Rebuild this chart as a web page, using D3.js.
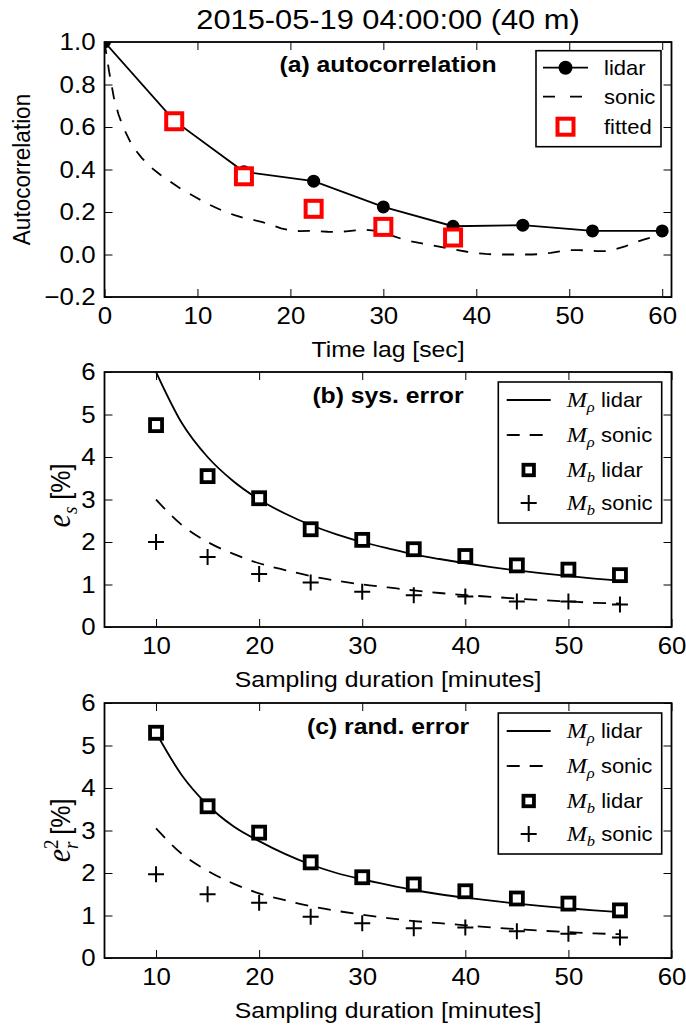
<!DOCTYPE html>
<html>
<head>
<meta charset="utf-8">
<script src="https://cdn.jsdelivr.net/npm/d3@7"></script>
<style>
body { margin: 0; background: #fff; }
text { font-family: "Liberation Sans", Arial, sans-serif; fill: #000; }
</style>
</head>
<body>
<div id="chart"></div>
<script>
// (a) autocorrelation vs time lag [sec]
const lagLidar = [0, 7.5, 15, 22.5, 30, 37.5, 45, 52.5, 60];
const acfLidar = [1.0, 0.63, 0.389, 0.345, 0.224, 0.133, 0.138, 0.111, 0.111];
const lagFitted = [7.5, 15, 22.5, 30, 37.5];
const acfFitted = [0.627, 0.368, 0.215, 0.13, 0.08];
const lagSonic = [0, 0.5, 1, 1.5, 2, 3, 4, 5, 6, 7, 8, 9, 10, 11, 12, 13, 14, 15, 16, 17, 18, 19, 20,
  21, 22, 23, 24, 25, 26, 27, 28, 29, 30, 31, 32, 33, 34, 35, 36, 37, 38, 39, 40,
  41, 42, 43, 44, 45, 46, 47, 48, 49, 50, 51, 52, 53, 54, 55, 56, 57, 58, 59, 60];
const acfSonic = [1.0, 0.86, 0.74, 0.66, 0.6, 0.51, 0.455, 0.41, 0.375, 0.345, 0.315, 0.29, 0.265,
  0.24, 0.22, 0.2, 0.185, 0.172, 0.163, 0.152, 0.138, 0.123, 0.113,
  0.11, 0.111, 0.109, 0.107, 0.106, 0.109, 0.114, 0.117, 0.112, 0.1,
  0.088, 0.073, 0.062, 0.053, 0.045, 0.037, 0.029, 0.021, 0.013, 0.007,
  0.003, 0.0, 0.0, 0.0, 0.0, 0.0, 0.002, 0.008, 0.015, 0.02,
  0.021, 0.019, 0.016, 0.016, 0.025, 0.038, 0.055, 0.07, 0.082, 0.09];

// (b) and (c) errors [%] vs sampling duration [minutes]
const durCurve = [10, 12.5, 15, 17.5, 20, 22.5, 25, 27.5, 30, 32.5, 35, 37.5, 40, 42.5, 45, 47.5, 50, 52.5, 55];
const durations = [10, 15, 20, 25, 30, 35, 40, 45, 50, 55];

const sysRhoLidar = [6.0, 4.8, 4.0, 3.43, 3.0, 2.67, 2.4, 2.18, 2.0, 1.85, 1.71, 1.6, 1.5, 1.41, 1.33, 1.26, 1.2, 1.14, 1.09];
const sysRhoSonic = [3.0, 2.4, 2.0, 1.72, 1.5, 1.34, 1.2, 1.09, 1.0, 0.93, 0.86, 0.8, 0.75, 0.71, 0.67, 0.63, 0.6, 0.57, 0.55];
const sysBLidar = [4.75, 3.55, 3.03, 2.3, 2.05, 1.83, 1.67, 1.45, 1.35, 1.22];
const sysBSonic = [2.0, 1.65, 1.25, 1.05, 0.83, 0.75, 0.72, 0.6, 0.6, 0.53];

const randRhoLidar = [5.3, 4.3, 3.6, 3.1, 2.75, 2.45, 2.2, 2.0, 1.85, 1.72, 1.6, 1.5, 1.42, 1.35, 1.28, 1.22, 1.17, 1.12, 1.08];
const randRhoSonic = [3.05, 2.45, 2.05, 1.75, 1.52, 1.36, 1.22, 1.11, 1.02, 0.94, 0.87, 0.82, 0.77, 0.72, 0.68, 0.64, 0.61, 0.58, 0.56];
const randBLidar = [5.3, 3.57, 2.95, 2.25, 1.9, 1.73, 1.57, 1.4, 1.28, 1.12];
const randBSonic = [1.97, 1.5, 1.3, 0.97, 0.82, 0.7, 0.72, 0.63, 0.57, 0.48];

const lagTicks = [0, 10, 20, 30, 40, 50, 60];
const acfTicks = [-0.2, 0.0, 0.2, 0.4, 0.6, 0.8, 1.0];
const durTicks = [10, 20, 30, 40, 50, 60];
const errTicks = [0, 1, 2, 3, 4, 5, 6];

var width = 686;
var height = 1027;
var SX = 1.1;           // text looks a bit wider than plain Arial
var left = 104.5, right = 671.5;
var panelH = 255;
var fontSize = 22.5;
var tickSize = 23.5;
var legSize = 20;

var svg = d3.select("#chart").append("svg")
    .attr("width", width)
    .attr("height", height);

svg.append("rect")
  .attr("width", width)
  .attr("height", height)
  .attr("fill", "white");

function addText(parent, x, y, str, size, weight, anchor) {
  return parent.append("text")
    .attr("transform", "translate(" + x + "," + y + ") scale(" + SX + ",1)")
    .attr("text-anchor", anchor || "middle")
    .attr("font-size", size)
    .attr("font-weight", weight || "normal")
    .text(str);
}

function styleAxis(ax) {
  ax.select(".domain").remove();
  ax.attr("font-family", null).attr("font-size", null);
  ax.selectAll(".tick line").attr("stroke", "#000").attr("stroke-width", 1);
  ax.selectAll("text").attr("font-size", tickSize).attr("fill", "#000");
}

function makePanel(id, top, xDomain, yDomain, xTicks, yTicks, yFmt) {
  var x = d3.scaleLinear().domain(xDomain).range([left, right]);
  var y = d3.scaleLinear().domain(yDomain).range([top + panelH, top]);
  var g = svg.append("g").attr("id", id);

  g.append("clipPath").attr("id", id + "-clip")
    .append("rect")
      .attr("x", left).attr("y", top)
      .attr("width", right - left).attr("height", panelH);

  var plot = g.append("g").attr("clip-path", "url(#" + id + "-clip)");

  // ticks point inwards on all four sides
  var bx = g.append("g")
      .attr("transform", "translate(0," + (top + panelH) + ")")
      .call(d3.axisBottom(x).tickValues(xTicks).tickSizeInner(-8).tickSizeOuter(0)
            .tickPadding(10).tickFormat(d3.format("d")));
  styleAxis(bx);
  bx.selectAll("text").attr("transform", "scale(" + SX + ",1)");

  var tx = g.append("g")
      .attr("transform", "translate(0," + top + ")")
      .call(d3.axisTop(x).tickValues(xTicks).tickSizeInner(-8).tickSizeOuter(0).tickFormat(""));
  styleAxis(tx);

  var ly = g.append("g")
      .attr("transform", "translate(" + left + ",0)")
      .call(d3.axisLeft(y).tickValues(yTicks).tickSizeInner(-8).tickSizeOuter(0)
            .tickPadding(9).tickFormat(yFmt));
  styleAxis(ly);
  ly.selectAll("text").attr("x", -9 / SX).attr("transform", "scale(" + SX + ",1)");

  var ry = g.append("g")
      .attr("transform", "translate(" + right + ",0)")
      .call(d3.axisRight(y).tickValues(yTicks).tickSizeInner(-8).tickSizeOuter(0).tickFormat(""));
  styleAxis(ry);

  g.append("rect")
    .attr("x", left).attr("y", top)
    .attr("width", right - left).attr("height", panelH)
    .attr("fill", "none")
    .attr("stroke", "#000")
    .attr("stroke-width", 1.8);

  return { g: g, plot: plot, x: x, y: y, top: top };
}

function squareMarker(sel, size, color, sw) {
  sel.append("rect")
    .attr("x", -size / 2).attr("y", -size / 2)
    .attr("width", size).attr("height", size)
    .attr("fill", "white")
    .attr("stroke", color)
    .attr("stroke-width", sw);
}

function plusMarker(sel) {
  sel.append("path")
    .attr("d", "M-8,0H8M0,-8V8")
    .attr("stroke", "#000")
    .attr("stroke-width", 2)
    .attr("fill", "none");
}

function mathLegendText(parent, x, y, sub, rest) {
  var t = parent.append("text")
    .attr("transform", "translate(" + x + "," + y + ") scale(" + SX + ",1)")
    .attr("font-size", legSize);
  t.append("tspan")
    .attr("font-family", "'Liberation Serif', serif")
    .attr("font-style", "italic")
    .attr("font-size", 22)
    .text("M");
  t.append("tspan")
    .attr("font-family", "'Liberation Serif', serif")
    .attr("font-style", "italic")
    .attr("font-size", 15)
    .attr("dy", 5)
    .text(sub);
  t.append("tspan")
    .attr("dy", -5)
    .text(" " + rest);
  return t;
}

function legendBox(g, x, y, w, h) {
  g.append("rect")
    .attr("x", x).attr("y", y)
    .attr("width", w).attr("height", h)
    .attr("fill", "white")
    .attr("stroke", "#000")
    .attr("stroke-width", 1.6);
}

// ---------- title
addText(svg, 388, 29, "2015-05-19 04:00:00 (40 m)", 28);

// ---------- panel (a)
var pa = makePanel("pa", 42, [0, 61], [-0.2, 1.0], lagTicks, acfTicks, d3.format(".1f"));

var lineA = d3.line();

pa.plot.append("path")
  .attr("d", lineA(lagSonic.map(function(d, i) { return [pa.x(d), pa.y(acfSonic[i])]; })))
  .attr("fill", "none")
  .attr("stroke", "#000")
  .attr("stroke-width", 1.8)
  .attr("stroke-dasharray", "12,11");

pa.plot.append("path")
  .attr("d", lineA(lagLidar.map(function(d, i) { return [pa.x(d), pa.y(acfLidar[i])]; })))
  .attr("fill", "none")
  .attr("stroke", "#000")
  .attr("stroke-width", 1.8);

pa.plot.selectAll(".lidarDot")
  .data(lagLidar).enter()
  .append("circle")
    .attr("class", "lidarDot")
    .attr("cx", function(d) { return pa.x(d); })
    .attr("cy", function(d, i) { return pa.y(acfLidar[i]); })
    .attr("r", 6.5)
    .attr("fill", "#000");

pa.plot.selectAll(".fitted")
  .data(lagFitted).enter()
  .append("g")
    .attr("class", "fitted")
    .attr("transform", function(d, i) { return "translate(" + pa.x(d) + "," + pa.y(acfFitted[i]) + ")"; })
    .each(function() { squareMarker(d3.select(this), 16, "#ff0000", 4); });

addText(pa.g, 388, pa.top + 30, "(a) autocorrelation", fontSize, "bold");
addText(svg, 388, 357, "Time lag [sec]", fontSize);

svg.append("text")
  .attr("transform", "translate(30," + (pa.top + panelH / 2) + ") rotate(-90) scale(1," + SX + ")")
  .attr("text-anchor", "middle")
  .attr("font-size", fontSize)
  .text("Autocorrelation");

// legend (a)
var la = pa.g.append("g");
legendBox(la, 536, pa.top + 8.7, 125, 96);
var rowsA = [pa.top + 25.7, pa.top + 54.7, pa.top + 84.7];
la.append("line").attr("x1", 543).attr("x2", 588).attr("y1", rowsA[0]).attr("y2", rowsA[0])
  .attr("stroke", "#000").attr("stroke-width", 1.8);
la.append("circle").attr("cx", 565.5).attr("cy", rowsA[0]).attr("r", 7).attr("fill", "#000");
la.append("line").attr("x1", 543).attr("x2", 588).attr("y1", rowsA[1]).attr("y2", rowsA[1])
  .attr("stroke", "#000").attr("stroke-width", 1.8).attr("stroke-dasharray", "12,15");
squareMarker(la.append("g").attr("transform", "translate(565.5," + rowsA[2] + ")"), 16, "#ff0000", 4);
addText(la, 604, rowsA[0] + 7, "lidar", legSize, "normal", "start");
addText(la, 604, rowsA[1] + 7, "sonic", legSize, "normal", "start");
addText(la, 604, rowsA[2] + 7, "fitted", legSize, "normal", "start");

// ---------- panels (b) and (c)
function errorPanel(id, top, rhoLidar, rhoSonic, bLidar, bSonic, title) {
  var p = makePanel(id, top, [5, 60], [0, 6], durTicks, errTicks, d3.format("d"));
  var line = d3.line()
      .x(function(d) { return p.x(d[0]); })
      .y(function(d) { return p.y(d[1]); })
      .curve(d3.curveMonotoneX);

  p.plot.append("path")
    .attr("d", line(durCurve.map(function(d, i) { return [d, rhoLidar[i]]; })))
    .attr("fill", "none").attr("stroke", "#000").attr("stroke-width", 1.8);

  p.plot.append("path")
    .attr("d", line(durCurve.map(function(d, i) { return [d, rhoSonic[i]]; })))
    .attr("fill", "none").attr("stroke", "#000").attr("stroke-width", 1.8)
    .attr("stroke-dasharray", "13,10");

  p.plot.selectAll(".bl")
    .data(durations).enter()
    .append("g")
      .attr("class", "bl")
      .attr("transform", function(d, i) { return "translate(" + p.x(d) + "," + p.y(bLidar[i]) + ")"; })
      .each(function() { squareMarker(d3.select(this), 12, "#000", 3.8); });

  p.plot.selectAll(".bs")
    .data(durations).enter()
    .append("g")
      .attr("class", "bs")
      .attr("transform", function(d, i) { return "translate(" + p.x(d) + "," + p.y(bSonic[i]) + ")"; })
      .each(function() { plusMarker(d3.select(this)); });

  addText(p.g, 388, top + 30.5, title, fontSize, "bold");
  addText(svg, 388, top + panelH + 60, "Sampling duration [minutes]", fontSize);

  // legend
  var lg = p.g.append("g");
  legendBox(lg, 498.3, top + 10, 163.4, 141);
  var rows = [top + 28, top + 63, top + 98, top + 131];
  lg.append("line").attr("x1", 506.7).attr("x2", 550.7).attr("y1", rows[0]).attr("y2", rows[0])
    .attr("stroke", "#000").attr("stroke-width", 1.8);
  lg.append("line").attr("x1", 506.7).attr("x2", 550.7).attr("y1", rows[1]).attr("y2", rows[1])
    .attr("stroke", "#000").attr("stroke-width", 1.8).attr("stroke-dasharray", "13,10");
  squareMarker(lg.append("g").attr("transform", "translate(528.7," + rows[2] + ")"), 10.5, "#000", 3.8);
  plusMarker(lg.append("g").attr("transform", "translate(528.7," + rows[3] + ")"));
  mathLegendText(lg, 566.7, rows[0] + 7, "\u03c1", "lidar");
  mathLegendText(lg, 566.7, rows[1] + 7, "\u03c1", "sonic");
  mathLegendText(lg, 566.7, rows[2] + 7, "b", "lidar");
  mathLegendText(lg, 566.7, rows[3] + 7, "b", "sonic");
  return p;
}

var pb = errorPanel("pb", 372, sysRhoLidar, sysRhoSonic, sysBLidar, sysBSonic, "(b) sys. error");
var pc = errorPanel("pc", 703, randRhoLidar, randRhoSonic, randBLidar, randBSonic, "(c) rand. error");

// y labels with math
var yb = svg.append("text")
  .attr("transform", "translate(70," + (pb.top + panelH / 2 - 4) + ") rotate(-90) scale(1," + SX + ")")
  .attr("text-anchor", "middle")
  .attr("font-size", 25);
yb.append("tspan").attr("font-family", "'Liberation Serif', serif").attr("font-style", "italic")
  .attr("font-size", 30).text("e");
yb.append("tspan").attr("font-family", "'Liberation Serif', serif").attr("font-style", "italic")
  .attr("font-size", 19).attr("dy", 6).text("s");
yb.append("tspan").attr("dy", -6).text(" [%]");

var yc = svg.append("text")
  .attr("transform", "translate(70," + (pc.top + panelH / 2) + ") rotate(-90) scale(1," + SX + ")")
  .attr("text-anchor", "middle")
  .attr("font-size", 25);
yc.append("tspan").attr("font-family", "'Liberation Serif', serif").attr("font-style", "italic")
  .attr("font-size", 30).text("e");
yc.append("tspan").attr("font-family", "'Liberation Serif', serif")
  .attr("font-size", 19).attr("dy", -11).text("2");
yc.append("tspan").attr("font-family", "'Liberation Serif', serif").attr("font-style", "italic")
  .attr("font-size", 19).attr("dx", -9.5).attr("dy", 18).text("r");
yc.append("tspan").attr("dy", -7).text(" [%]");
</script>
</body>
</html>
